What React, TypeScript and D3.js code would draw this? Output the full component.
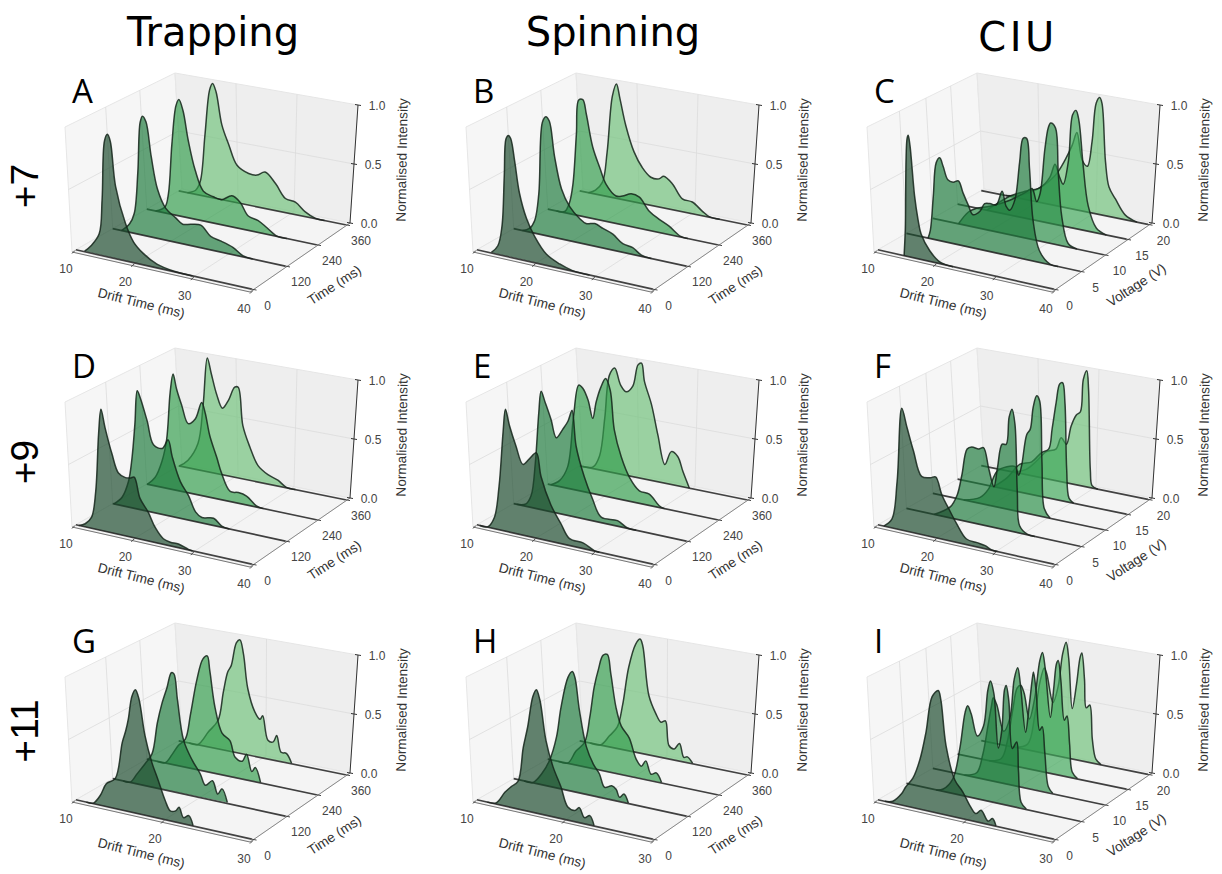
import React from 'react';
import * as d3 from 'd3';

type Pt = [number, number]; // [drift time in ms, normalised intensity]

const columnTitles = ['Trapping', 'Spinning', 'CIU'];
const rowTitles = ['+7', '+9', '+11'];

const timeTicks = [0, 120, 240, 360];
const voltageTicks = [0, 5, 10, 15, 20];
const driftTicksWide = [10, 20, 30, 40];
const driftTicksNarrow = [10, 20, 30];
const intensityTicks = [0, 0.5, 1];

// A: trapping +7
const a0: Pt[] = [[11.5,.005],[12.6,.06],[14,.17],[14.5,.45],[14.9,.92],[15.4,.98],[15.9,.93],[16.8,.58],[18.5,.30],[19.9,.165],[21.6,.09],[23.9,.03],[26.7,.005],[30,0]];
const a1: Pt[] = [[11.5,0],[12.9,.07],[13.7,.165],[14.3,.5],[14.7,.92],[15.1,.975],[15.7,.935],[16.6,.66],[17.7,.4],[19.1,.26],[20.8,.2],[22,.16],[23.4,.175],[25.1,.185],[26.8,.11],[28.6,.09],[30.6,.06],[32.3,.01],[34,0]];
const a2: Pt[] = [[11.5,0],[13.1,.05],[13.7,.165],[14.3,.59],[15,.92],[15.5,.975],[16.2,.89],[17.1,.65],[18.3,.41],[19.7,.25],[21.4,.22],[22.8,.21],[24.6,.26],[26,.22],[27.4,.12],[29.1,.1],[30.6,.055],[32.3,.003],[34,0]];
const a3: Pt[] = [[11.5,0],[12.9,.035],[13.7,.12],[14.5,.525],[15.3,.92],[15.8,.98],[16.4,.915],[17.4,.64],[18.6,.48],[20,.32],[22,.27],[23.4,.27],[24.8,.31],[26.6,.23],[28.3,.12],[30,.105],[31.7,.04],[33.4,.003],[35,0]];

// B: spinning +7
const b0: Pt[] = [[12.5,.005],[13.6,.07],[14.3,.23],[14.7,.64],[15,.94],[15.4,.97],[15.8,.95],[16.5,.77],[17.3,.53],[18.5,.34],[19.9,.21],[21.9,.09],[24.2,.035],[26.4,.005],[29.3,0]];
const b1: Pt[] = [[11.5,0],[12.7,.03],[13.6,.105],[14.3,.33],[14.9,.92],[15.5,.975],[16.1,.945],[17,.665],[18.2,.41],[19.6,.28],[21.3,.2],[22.4,.17],[23.9,.185],[25.3,.16],[27,.13],[28.7,.07],[30.4,.055],[31.9,.01],[33.6,0]];
const b2: Pt[] = [[11.5,0],[12.9,.01],[13.7,.09],[14.3,.25],[14.9,.68],[15.3,.97],[16,.98],[16.6,.865],[17.7,.6],[18.9,.44],[20,.31],[21.7,.23],[22.8,.24],[24.3,.275],[25.7,.26],[27.4,.16],[29.1,.11],[30.8,.07],[32.8,.005],[34,0]];
const b3: Pt[] = [[11.5,0],[12.7,.035],[13.9,.115],[14.7,.38],[15.6,.87],[16.3,.98],[16.9,.86],[17.9,.64],[19.3,.43],[20.7,.31],[22.2,.24],[23.6,.24],[24.4,.27],[25.9,.22],[27.6,.11],[29.3,.1],[31,.04],[32.2,.005],[34,0]];

// C: CIU +7
const c0: Pt[] = [[14.5,0],[14.7,.205],[15,.94],[15.2,.97],[15.5,.895],[16.3,.495],[16.9,.31],[17.4,.205],[18.9,.085],[20.6,.015],[22.9,0]];
const c1: Pt[] = [[13.7,0],[14.1,.07],[14.6,.35],[15.1,.63],[15.7,.675],[16.3,.61],[17.1,.51],[18,.5],[18.9,.52],[19.7,.43],[20.6,.34],[21.4,.27],[22.6,.31],[23.4,.38],[24.3,.39],[25.4,.39],[26.4,.51],[27.1,.395],[27.7,.37],[28.6,.465],[29.4,.775],[30,.975],[30.6,.98],[31.1,.74],[31.7,.33],[32.8,.095],[34.6,.005],[36,0]];
const c2: Pt[] = [[14.4,0],[16.1,.115],[17.5,.16],[19.8,.2],[23.2,.285],[26.1,.385],[27,.42],[27.8,.32],[28.4,.395],[29.2,.765],[29.8,.95],[30.2,.99],[31,.96],[31.5,.595],[32.1,.24],[33.2,.03],[34.7,0]];
const c3: Pt[] = [[15,0],[16.7,.07],[19,.16],[21.8,.23],[24.1,.28],[25.8,.385],[26.7,.505],[27.4,.415],[28.1,.35],[29,.555],[29.7,.945],[30.3,.99],[30.8,.91],[31.5,.555],[32.4,.21],[33.8,.04],[35.5,0]];
const c4: Pt[] = [[14.2,0],[17,.035],[19.9,.12],[22.7,.26],[24.4,.41],[25.6,.545],[26.4,.66],[27.3,.435],[28.2,.39],[29,.61],[29.7,.94],[30.3,.995],[30.7,.95],[31.3,.46],[31.9,.25],[33,.16],[34.7,.04],[36.7,0]];

// D: trapping +9
const d0: Pt[] = [[10.5,0],[11.6,.025],[12.7,.09],[13.4,.3],[13.9,.77],[14.3,.97],[15,.83],[16.2,.63],[17.3,.49],[18.5,.465],[19.3,.47],[20,.485],[21,.325],[22.4,.23],[23.6,.12],[25,.045],[26.2,.03],[27.6,.03],[29.3,.005],[30,0]];
const d1: Pt[] = [[10.2,0],[11.6,.07],[12.7,.21],[13.3,.405],[13.8,.69],[14.2,.97],[14.7,.92],[15.9,.74],[17,.555],[18.5,.54],[19.5,.62],[20.2,.49],[21.6,.3],[23,.2],[24.2,.08],[25.3,.045],[27.3,.06],[28.7,.01],[30,0]];
const d2: Pt[] = [[10.1,0],[11.4,.07],[12.6,.22],[13.4,.41],[14,.81],[14.5,.97],[15.1,.85],[16,.72],[17.1,.58],[18.3,.63],[19.4,.78],[20,.7],[20.8,.515],[22,.345],[22.8,.225],[24.3,.085],[25.7,.09],[27.1,.075],[28.8,.01],[30,0]];
const d3p: Pt[] = [[10.1,0],[11.6,.065],[13.3,.225],[14.2,.575],[14.9,.975],[15.6,.845],[16.5,.68],[17.5,.57],[18.5,.645],[19.6,.77],[20.2,.775],[21,.455],[22.2,.285],[23.6,.14],[25.3,.08],[27,.05],[28.4,.005],[30,0]];

// E: spinning +9
const e0: Pt[] = [[10.5,0],[11.9,.005],[13,.09],[13.8,.345],[14.5,.79],[14.9,.975],[15.6,.85],[16.7,.7],[17.9,.565],[19,.62],[20.2,.68],[21,.5],[22.7,.29],[24.4,.16],[25.9,.055],[28.2,.045],[30.2,.003],[31,0]];
const e1: Pt[] = [[10.5,0],[12.1,.02],[13,.1],[13.7,.37],[14.3,.79],[14.7,.97],[15.4,.885],[16.4,.755],[17.3,.615],[18.4,.695],[19.3,.77],[20,.865],[20.7,.58],[22.1,.345],[23.5,.18],[25,.045],[27.8,.045],[29.5,.003],[31,0]];
const e2: Pt[] = [[10.5,0],[12,.05],[13.4,.18],[14.4,.61],[15.3,.885],[16,.865],[16.9,.775],[17.7,.63],[18.3,.775],[19.1,.905],[19.9,.985],[20.7,.895],[21.4,.57],[22.6,.355],[24,.2],[25.7,.105],[27.4,.095],[29.1,.015],[30,0]];
const e3: Pt[] = [[10.5,0],[12.3,.015],[13.4,.12],[14.3,.455],[15.1,.83],[16,.9],[17,.765],[18,.715],[19.1,.775],[20,.965],[20.6,.985],[21.1,.835],[22.3,.65],[23.4,.4],[24.6,.16],[25.7,.28],[26.8,.25],[27.7,.13],[28.8,0]];

// F: CIU +9
const f0: Pt[] = [[11,0],[12.4,.07],[13.3,.38],[14.1,.975],[15,.83],[16.1,.655],[17.5,.465],[19,.47],[19.9,.485],[21,.35],[22.4,.235],[23.5,.15],[25.2,.045],[27,.035],[28.4,.025],[29.5,.003],[30.5,0]];
const f1: Pt[] = [[14.7,0],[17.5,.09],[18.7,.2],[19.5,.37],[20.4,.59],[21.2,.615],[22.4,.61],[23.2,.63],[24.1,.47],[25,.33],[25.6,.49],[26.4,.69],[27.1,.695],[27.6,.92],[28.1,.99],[28.6,.875],[29,.33],[29.4,.06],[30.7,.005],[32,0]];
const f2: Pt[] = [[15.3,0],[18.1,.05],[19.5,.13],[21,.295],[22.7,.35],[24.1,.365],[24.7,.3],[25.2,.38],[26.1,.65],[26.7,.7],[27.2,.885],[27.8,.985],[28.3,.95],[28.7,.455],[29.1,.07],[30.1,0]];
const f3: Pt[] = [[16.2,0],[18.5,.1],[20.7,.235],[22.7,.275],[24.4,.37],[25.6,.41],[26.2,.585],[26.9,.815],[27.5,.975],[28,.99],[28.4,.83],[28.7,.27],[29.1,.035],[29.9,0]];
const f4: Pt[] = [[15.4,0],[17.7,.045],[19.4,.13],[21.1,.23],[22.8,.27],[23.7,.375],[24.6,.33],[25.4,.49],[26.3,.595],[27,.63],[27.5,.91],[28.1,.99],[28.4,.83],[28.7,.15],[29,.02],[30,0]];

// G: trapping +11
const g0: Pt[] = [[11.2,0],[12,.005],[12.8,.08],[13.5,.185],[14.5,.24],[15.3,.54],[15.7,.64],[16,.74],[16.4,.925],[16.8,.985],[17.2,.92],[17.9,.635],[18.7,.43],[19.4,.305],[20.2,.155],[20.8,.08],[21.4,.09],[21.8,.125],[22.3,.05],[22.9,.075],[23.4,.003]];
const g1: Pt[] = [[11.2,0],[12,.003],[12.8,.085],[13.7,.18],[14.5,.275],[15.1,.535],[15.6,.695],[16.2,.84],[16.7,.97],[17,.965],[17.4,.76],[18.1,.44],[19.1,.29],[20,.195],[20.6,.11],[21.4,.16],[22,.06],[22.5,.11],[23.1,.008]];
const g2: Pt[] = [[11.2,0],[12.1,.003],[12.9,.085],[13.6,.17],[14.4,.235],[15,.455],[15.7,.745],[16.4,.935],[16.9,.97],[17.2,.85],[17.8,.55],[18.6,.35],[19.5,.3],[20.1,.17],[20.9,.15],[21.4,.215],[22,.08],[22.4,.12],[23,.005]];
const g3: Pt[] = [[11.2,0],[12.2,.003],[13.4,.13],[14.5,.245],[15.1,.495],[15.6,.675],[16,.735],[16.6,.94],[17,.97],[17.4,.855],[17.9,.565],[18.7,.38],[19.3,.325],[19.6,.36],[20.2,.16],[20.8,.155],[21.2,.215],[21.7,.08],[22.3,.08],[22.9,.005]];

// H: spinning +11
const h0: Pt[] = [[11.2,0],[12.2,.01],[13.2,.11],[13.9,.165],[14.7,.22],[15.3,.5],[15.8,.67],[16.4,.925],[16.8,.985],[17.2,.91],[17.9,.595],[18.7,.4],[19.6,.255],[20.4,.105],[21.2,.09],[21.7,.12],[22.3,.05],[22.9,.075],[23.4,.003]];
const h1: Pt[] = [[11.2,0],[12.2,.003],[13.2,.09],[14.1,.215],[14.9,.42],[15.4,.665],[16.2,.925],[16.7,.98],[17,.935],[17.5,.68],[18.3,.39],[19.1,.26],[19.8,.19],[20.4,.09],[21.2,.115],[21.7,.095],[22.1,.035],[22.6,.07],[23.1,.005]];
const h2: Pt[] = [[11.2,0],[12.3,.003],[13.2,.115],[14.2,.205],[14.8,.425],[15.3,.685],[15.8,.845],[16.3,.965],[16.8,.98],[17.2,.825],[17.8,.55],[18.4,.405],[19.3,.32],[20.1,.155],[20.7,.105],[21.2,.157],[21.8,.055],[22.4,.075],[23,.005]];
const h3: Pt[] = [[11.2,0],[12.4,.003],[13.4,.095],[14.3,.185],[14.9,.38],[15.6,.715],[16.4,.925],[16.9,.975],[17.2,.925],[17.9,.51],[18.7,.365],[19.3,.3],[19.8,.32],[20.2,.115],[20.8,.095],[21.4,.15],[21.9,.04],[22.3,.05],[22.9,.005]];

// I: CIU +11
const i0: Pt[] = [[10.8,0],[11.7,.015],[12.7,.09],[13.2,.155],[14,.235],[14.8,.395],[15.5,.625],[16.2,.92],[16.9,.98],[17.2,.91],[17.8,.55],[18.8,.295],[19.7,.215],[20.5,.12],[21.2,.065],[21.8,.1],[22.6,.027],[23.1,.055],[23.5,.003]];
const i1: Pt[] = [[13.4,0],[14.2,.02],[15.3,.12],[16.1,.38],[16.7,.68],[17,.74],[17.4,.68],[18.1,.51],[18.8,.6],[19.3,.9],[19.6,.98],[20,.88],[20.5,.45],[20.9,.6],[21.2,.93],[21.4,.97],[21.7,.85],[22.1,.47],[22.6,.53],[22.8,.3],[23.1,.05],[23.7,.005]];
const i2: Pt[] = [[13.6,0],[15,.04],[15.7,.2],[16.3,.45],[16.7,.62],[16.9,.69],[17.3,.64],[18.1,.43],[18.8,.55],[19.3,.88],[19.7,.98],[20,.85],[20.6,.46],[21,.68],[21.4,.93],[21.5,.97],[21.8,.82],[22.2,.5],[22.5,.535],[22.8,.32],[23.2,.05],[23.7,.005]];
const i3: Pt[] = [[13.6,0],[15,.04],[15.7,.2],[16.3,.47],[16.8,.66],[17.2,.69],[17.6,.63],[18.2,.42],[18.8,.6],[19.4,.93],[19.7,1],[20,.88],[20.6,.47],[21,.73],[21.3,.93],[21.5,.96],[21.8,.8],[22.2,.47],[22.5,.51],[22.8,.28],[23.1,.05],[23.7,.005]];
const i4: Pt[] = [[13.8,0],[15.3,.05],[16.1,.3],[16.7,.6],[17.2,.73],[17.5,.68],[18.2,.45],[18.8,.6],[19.3,.88],[19.7,.985],[20,.85],[20.4,.43],[20.9,.65],[21.3,.88],[21.5,.92],[21.8,.7],[22,.46],[22.4,.49],[22.7,.2],[23.1,.04],[23.7,.003]];

const panelLetters = ['A', 'B', 'C', 'D', 'E', 'F', 'G', 'H', 'I'];
const panelSeries = [
  [a0, a1, a2, a3], [b0, b1, b2, b3], [c0, c1, c2, c3, c4],
  [d0, d1, d2, d3p], [e0, e1, e2, e3], [f0, f1, f2, f3, f4],
  [g0, g1, g2, g3], [h0, h1, h2, h3], [i0, i1, i2, i3, i4],
];

const fillsTime = ['#1a4a2c', '#1d7b3c', '#349e4d', '#72c37c'];
const fillsVoltage = ['#1a4a2c', '#1d7b3c', '#2b8f48', '#40a85a', '#72c37c'];

// pane corners of one panel, floor and top, a bit of perspective in them
const FLb: Pt = [72, 252], FRb: Pt = [250, 292], BRb: Pt = [350, 223], BLb: Pt = [182, 189];
const FLt: Pt = [65, 127], FRt: Pt = [254, 165], BRt: Pt = [358, 105], BLt: Pt = [175, 73];
const traceSpan = 175; // px the full drift range takes for a spectrum, values were read at this width

const lerp = (a: Pt, b: Pt, t: number): Pt => [a[0] + (b[0] - a[0]) * t, a[1] + (b[1] - a[1]) * t];

// u along drift, v along depth, w up
const project = (u: number, v: number, w: number): Pt => {
  const bottom = lerp(lerp(FLb, FRb, u), lerp(BLb, BRb, u), v);
  const top = lerp(lerp(FLt, FRt, u), lerp(BLt, BRt, u), v);
  return lerp(bottom, top, w);
};

// the spectra keep the x of their base, only y goes up
const projectTrace = (u: number, v: number, w: number): Pt => [project(u, v, 0)[0], project(u, v, w)[1]];

const pathOf = d3.line<Pt>().curve(d3.curveCatmullRom.alpha(0.5));
const poly = (pts: Pt[]) => 'M' + pts.map(p => p.join(',')).join('L') + 'Z';
const seg = (a: Pt, b: Pt) => `M${a[0]},${a[1]}L${b[0]},${b[1]}`;

const gridCol = '#dcdcdc';
const sansFont = '"Liberation Sans", Arial, sans-serif';
const tickText = { fontFamily: sansFont, fontSize: 12, fill: '#444' };
const axisText = { fontFamily: sansFont, fontSize: 13.6, fill: '#333' };

function Panel({ index }: { index: number }) {
  const col = index % 3;
  const row = Math.floor(index / 3);
  const series = panelSeries[index];
  const isVoltage = col === 2;
  const driftTicks = row === 2 ? driftTicksNarrow : driftTicksWide;
  const depthTicks = isVoltage ? voltageTicks : timeTicks;
  const fills = isVoltage ? fillsVoltage : fillsTime;
  const driftMax = driftTicks[driftTicks.length - 1];

  const driftScale = d3.scaleLinear().domain([10, driftMax]).range([0, 1]);
  // piecewise, the nearer gaps come out slightly wider
  const depthScale = d3.scaleLinear().domain(depthTicks)
    .range(isVoltage ? [0.035, 0.295, 0.535, 0.76, 0.975] : [0.035, 0.37, 0.68, 0.97]);
  const zScale = d3.scaleLinear().domain([0, 1]).range([0, 1]);

  const driftEnd = 10 + (driftMax - 10) * 0.99;

  return (
    <g transform={`translate(${401 * col},${275 * row})`}>
      <g style={{ filter: 'blur(0.4px)' }}>
        <path d={poly([FLb, BLb, BLt, FLt])} fill="#f6f6f6" stroke="#e6e6e6" />
        <path d={poly([BLb, BRb, BRt, BLt])} fill="#eeeeee" stroke="#e6e6e6" />
        <path d={poly([FLb, FRb, BRb, BLb])} fill="#f4f4f4" stroke="#e6e6e6" />

        {driftTicks.slice(1, -1).map(t => {
          const u = driftScale(t);
          return (
            <g key={t} fill="none" stroke={gridCol} strokeWidth={0.8}>
              <path d={seg(project(u, 0, 0), project(u, 1, 0))} />
              <path d={seg(project(u, 1, 0), project(u, 1, 1))} />
            </g>
          );
        })}
        {depthTicks.slice(1, -1).map(t => {
          const v = depthScale(t);
          return (
            <g key={t} fill="none" stroke={gridCol} strokeWidth={0.8}>
              <path d={seg(project(0, v, 0), project(1, v, 0))} />
              <path d={seg(project(0, v, 0), project(0, v, 1))} />
            </g>
          );
        })}
        <g fill="none" stroke={gridCol} strokeWidth={0.8}>
          <path d={seg(project(0, 0, 0.5), project(0, 1, 0.5))} />
          <path d={seg(project(0, 1, 0.5), project(1, 1, 0.5))} />
        </g>

        <path d={seg(FLb, FRb)} stroke="#777" strokeWidth={1} fill="none" />
        <path d={seg(FRb, BRb)} stroke="#888" strokeWidth={1} fill="none" />
        <path d={seg(BRb, BRt)} stroke="#333" strokeWidth={1} fill="none" />

        {driftTicks.map(t => {
          const a = project(driftScale(t), 0, 0);
          return <path key={t} d={seg([a[0], a[1] + 1.5], [a[0] + 3, a[1] - 1.5])} stroke="#444" strokeWidth={1} />;
        })}
        {depthTicks.map(t => {
          const a = project(1, depthScale(t), 0);
          return <path key={t} d={seg([a[0] - 2, a[1] - 0.5], [a[0] + 3, a[1] + 0.5])} stroke="#444" strokeWidth={1} />;
        })}
        {intensityTicks.map(t => {
          const a = project(1, 1, zScale(t));
          return <path key={t} d={seg([a[0] - 3, a[1] - 0.5], [a[0] + 3, a[1] + 0.5])} stroke="#333" strokeWidth={1} />;
        })}

        {/* back to front, the front spectrum lies over the others */}
        {series.map((s, i) => {
          const v = depthScale(depthTicks[i]);
          const span = project(1, v, 0)[0] - project(0, v, 0)[0];
          const traceScale = d3.scaleLinear().domain([10, driftMax]).range([0, traceSpan / span]);
          const pts = s.map(d => projectTrace(traceScale(d[0]), v, zScale(d[1])));
          return (
            <g key={i}>
              <path d={(pathOf(pts) as string) + 'Z'} fill={fills[i]} fillOpacity={0.68} />
              <path d={pathOf(pts) as string} fill="none" stroke="#14241a" strokeOpacity={0.85} strokeWidth={1.5} />
              <path d={seg(project(0, v, 0), project(driftScale(driftEnd), v, 0))} stroke="#222" strokeOpacity={0.85} strokeWidth={1.7} />
            </g>
          );
        }).reverse()}
      </g>

      {driftTicks.map(t => {
        const a = project(driftScale(t), 0, 0);
        return <text key={t} x={a[0] - 6} y={a[1] + 21} textAnchor="middle" {...tickText}>{t}</text>;
      })}
      {depthTicks.map(t => {
        const a = project(1, depthScale(t), 0);
        return <text key={t} x={a[0] + 14} y={a[1] + 20} textAnchor="middle" {...tickText}>{t}</text>;
      })}
      {intensityTicks.map(t => {
        const a = project(1, 1, zScale(t));
        return <text key={t} x={a[0] + 19} y={a[1] + 5} textAnchor="middle" {...tickText}>{t.toFixed(1)}</text>;
      })}

      <text transform="translate(141,304) rotate(14)" textAnchor="middle" dominantBaseline="middle" {...axisText}>Drift Time (ms)</text>
      <text transform="translate(335,286) rotate(-33)" textAnchor="middle" dominantBaseline="middle" {...axisText}>
        {isVoltage ? 'Voltage (V)' : 'Time (ms)'}
      </text>
      <text transform="translate(403,160) rotate(-89)" textAnchor="middle" dominantBaseline="middle" {...axisText}>Normalised Intensity</text>

      <text x={72} y={103} fontFamily='"Open Sans", sans-serif' fontSize={33} fill="#000">
        {panelLetters[index]}
      </text>
    </g>
  );
}

export default function App() {
  const titleFont = '"DejaVu Sans", sans-serif';
  return (
    <svg width={1222} height={874} style={{ position: 'absolute', left: 0, top: 0, display: 'block', background: '#fff' }}>
      {columnTitles.map((t, i) => (
        <text key={t} x={[213, 613, 1018][i]} y={[46, 46, 51][i]} textAnchor="middle" fontFamily={titleFont} fontSize={40} letterSpacing={i === 2 ? 3.5 : 0} fill="#000">{t}</text>
      ))}
      {rowTitles.map((t, i) => (
        <text key={t} transform={`translate(${38},${[186, 462, 731][i]}) rotate(-90)`} textAnchor="middle" fontFamily={sansFont} fontSize={39} fill="#000">{t}</text>
      ))}
      {panelSeries.map((_, i) => <Panel key={i} index={i} />)}
    </svg>
  );
}
